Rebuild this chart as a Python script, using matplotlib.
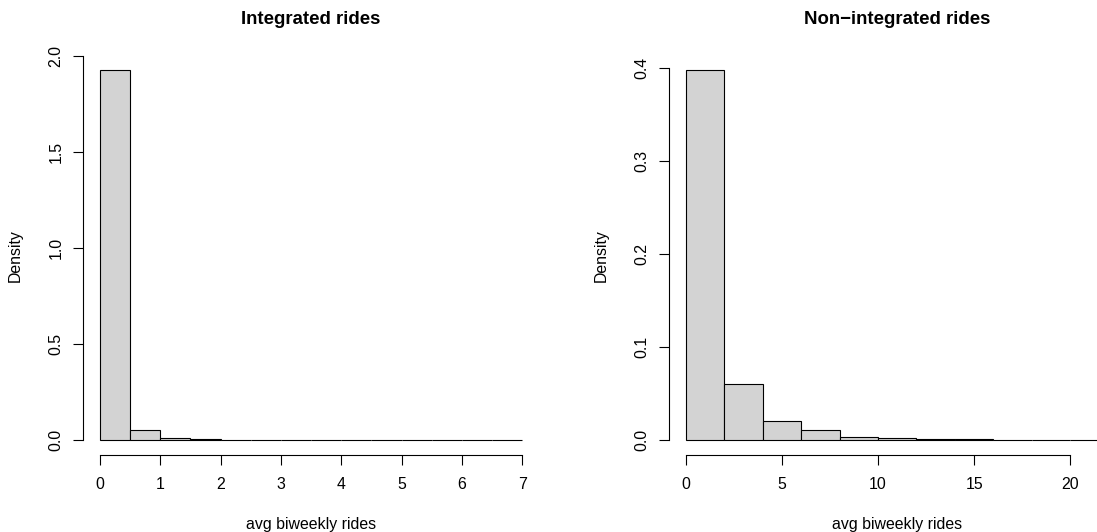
import numpy as np
import matplotlib
matplotlib.use("Agg")
import matplotlib.pyplot as plt

plt.rcParams['font.family'] = ['Liberation Sans', 'DejaVu Sans']

# left panel: integrated rides, bins of 0.5
int_edges = np.arange(0, 7.01, 0.5)
int_density = [1.923, 0.052, 0.010, 0.007, 0.003, 0.001, 0, 0, 0, 0.0005, 0, 0, 0, 0.0005]
int_xticks = [0, 1, 2, 3, 4, 5, 6, 7]
int_yticks = [0.0, 0.5, 1.0, 1.5, 2.0]

# right panel: non-integrated rides, bins of 2
non_edges = np.arange(0, 22.01, 2)
non_density = [0.3975, 0.0602, 0.0211, 0.0105, 0.0039, 0.0025, 0.0008, 0.0008, 0.0003, 0, 0.0002]
non_xticks = [0, 5, 10, 15, 20]
non_yticks = [0.0, 0.1, 0.2, 0.3, 0.4]

W, H = 1097, 532
FS = 11.4
fig = plt.figure(figsize=(W / 100, H / 100), dpi=100)


def px_axes(x0, x1, ytop, ybot):
    return fig.add_axes([x0 / W, (H - ybot) / H, (x1 - x0) / W, (ybot - ytop) / H])


def draw_hist(ax, edges, dens, xticks, yticks, title, xcenter, ylab_x):
    w = edges[1] - edges[0]
    ax.bar(edges[:-1], dens, width=w, align='edge', color='#D3D3D3',
           edgecolor='black', linewidth=0.8)
    # R style 4% padding
    xr = edges[-1] - edges[0]
    ax.set_xlim(edges[0] - 0.04 * xr, edges[-1] + 0.04 * xr)
    ym = max(dens)
    ax.set_ylim(-0.04 * ym, ym * 1.04)
    for s in ['top', 'right']:
        ax.spines[s].set_visible(False)
    ax.spines['left'].set_bounds(yticks[0], yticks[-1])
    ax.spines['bottom'].set_bounds(xticks[0], xticks[-1])
    ax.spines['left'].set_linewidth(0.8)
    ax.spines['bottom'].set_linewidth(0.8)
    ax.set_xticks(xticks)
    ax.set_xticklabels([str(t) for t in xticks])
    ax.set_yticks(yticks)
    ax.set_yticklabels(["%.1f" % t for t in yticks], rotation=90, va='center')
    ax.tick_params(axis='both', length=7, width=0.8, labelsize=FS, colors='black')
    ax.tick_params(axis='x', pad=9.1)
    ax.tick_params(axis='y', pad=7)
    fig.text(xcenter / W, 1 - 23.5 / H, title, ha='center', va='baseline',
             fontsize=13.4, fontweight='bold')
    fig.text(xcenter / W, 1 - 529.5 / H, 'avg biweekly rides', ha='center',
             va='baseline', fontsize=FS)
    fig.text(ylab_x / W, 1 - 255.3 / H, 'Density', rotation=90, rotation_mode='anchor',
             ha='center', va='baseline', fontsize=FS)


ax1 = px_axes(82.8, 539.4, 55.6, 455)
draw_hist(ax1, int_edges, int_density, int_xticks, int_yticks,
          'Integrated rides', (82.8 + 539.4) / 2, 20.0)

ax2 = px_axes(668.8, 1125.7, 55.6, 455)
draw_hist(ax2, non_edges, non_density, non_xticks, non_yticks,
          'Non\u2212integrated rides', (668.8 + 1125.7) / 2, 606.2)

fig.savefig('out.png', dpi=100)
